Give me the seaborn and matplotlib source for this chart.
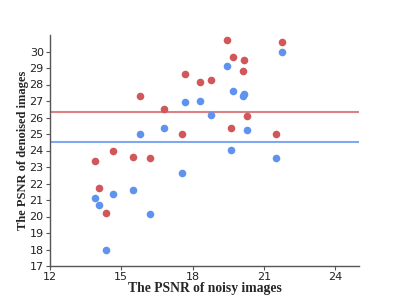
import numpy as np
import pandas as pd
import matplotlib
matplotlib.use("Agg")
import matplotlib.pyplot as plt
import seaborn as sns

# PSNR of noisy input images
noisy = [13.91, 14.05, 14.36, 14.65, 15.49, 15.79, 16.22, 16.79, 17.57, 17.68,
         18.32, 18.77, 19.44, 19.61, 19.68, 20.10, 20.17, 20.27, 21.52, 21.77]
# PSNR after denoising, two methods
denoised_red = [23.34, 21.72, 20.24, 23.94, 23.60, 27.33, 23.56, 26.54, 25.02, 28.64,
                28.18, 28.28, 30.69, 25.36, 29.65, 28.80, 29.49, 26.09, 25.02, 30.59]
denoised_blue = [21.15, 20.69, 17.95, 21.35, 21.60, 25.00, 20.16, 25.36, 22.65, 26.92,
                 27.02, 26.13, 29.13, 24.05, 27.63, 27.28, 27.45, 25.22, 23.52, 29.98]

x_ticks = [12, 15, 18, 21, 24]
y_ticks = list(range(17, 31))

red = "#d0575a"
blue = "#5f93ee"

df = pd.DataFrame({"noisy": noisy, "red": denoised_red, "blue": denoised_blue})

sns.set_style("white")
fig = plt.figure(figsize=(3.99, 2.99), dpi=100)
ax = fig.add_axes([50 / 399, 33 / 299, 309 / 399, 231 / 299])

sns.scatterplot(data=df, x="noisy", y="blue", color=blue, s=30, linewidth=0, ax=ax, zorder=3)
sns.scatterplot(data=df, x="noisy", y="red", color=red, s=30, linewidth=0, ax=ax, zorder=3)

ax.axhline(np.mean(denoised_red), color=red, alpha=0.75, lw=1.5, zorder=2)
ax.axhline(np.mean(denoised_blue), color=blue, alpha=0.8, lw=1.5, zorder=2)

ax.set_xlim(12, 25)
ax.set_ylim(17, 31)
ax.set_xticks(x_ticks)
ax.set_yticks(y_ticks)
ax.set_xticklabels([str(t) for t in x_ticks], fontsize=8, color="#222222")
ax.set_yticklabels([str(t) for t in y_ticks], fontsize=8, color="#222222")
ax.tick_params(axis="both", direction="out", length=3, width=0.8, color="#555555", pad=1.5, left=True, bottom=True)

for side in ["top", "right"]:
    ax.spines[side].set_visible(False)
for side in ["left", "bottom"]:
    ax.spines[side].set_color("#555555")
    ax.spines[side].set_linewidth(1.0)

serif = ["Liberation Serif", "DejaVu Serif"]
ax.set_xlabel("The PSNR of noisy images", family=serif, fontweight="bold", fontsize=9.8, labelpad=0)
ax.set_ylabel("The PSNR of denoised images", family=serif, fontweight="bold", fontsize=9, labelpad=0.5)

fig.savefig("out.png", dpi=100)
